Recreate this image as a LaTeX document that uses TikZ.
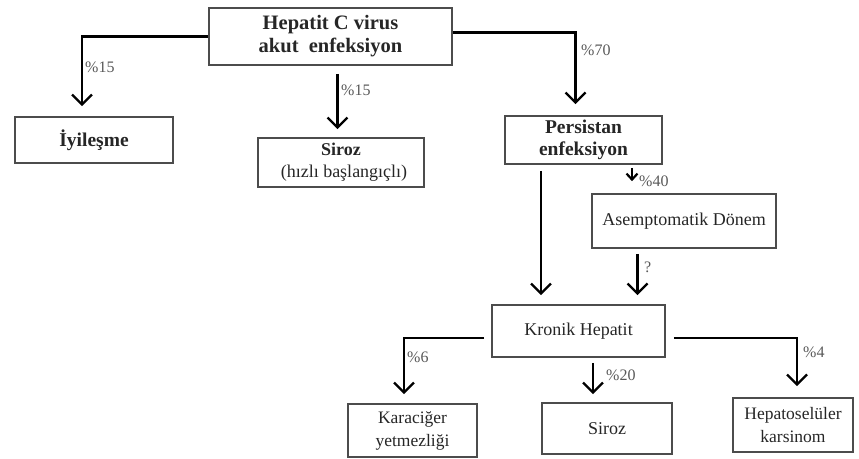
\documentclass[tikz,border=0pt]{standalone}
\usepackage{fontspec}
\setmainfont{Liberation Serif}
\usetikzlibrary{arrows.meta}

\begin{document}
\begin{tikzpicture}[x=1pt, y=-1pt,
		box/.style={draw=black!70, line width=1.6pt, inner sep=0pt, align=center, text=black!85, font=\fontsize{18}{20}\selectfont},
		bbox/.style={box, font=\bfseries\fontsize{19.5}{22}\selectfont},
		arr/.style={line width=2.4pt, -{Straight Barb[length=10pt, width=20pt]}},
		smallarr/.style={line width=2.2pt, -{Straight Barb[length=6pt, width=11pt]}},
		pct/.style={anchor=west, inner sep=0pt, text=black!65, font=\fontsize{16}{18}\selectfont}]
		\useasboundingbox (0,0) rectangle (859,458);
		% boxes
		\node[bbox, minimum width=243pt, minimum height=57pt, font=\bfseries\fontsize{20.5}{23}\selectfont] (virus) at (330.5,36.5) {Hepatit C virus\\akut~ enfeksiyon};
		\node[bbox, minimum width=158pt, minimum height=46pt] (iyi) at (94,140) {İyileşme};
		\node[box, minimum width=166pt, minimum height=49pt, font=\fontsize{18}{22}\selectfont] (siroza) at (341,162.5) {\textbf{Siroz}\\\hspace*{6pt}(hızlı başlangıçlı)};
		\node[bbox, minimum width=157pt, minimum height=48pt] (pers) at (583.5,140) {Persistan\\enfeksiyon};
		\node[box, minimum width=184pt, minimum height=54pt] (asem) at (684,221) {Asemptomatik Dönem};
		\node[box, minimum width=173pt, minimum height=52pt] (kronik) at (578.5,331) {Kronik Hepatit};
		\node[box, minimum width=129pt, minimum height=53pt, font=\fontsize{17.5}{23}\selectfont] (kc) at (412.5,430.5) {Karaciğer\\yetmezliği};
		\node[box, minimum width=130pt, minimum height=51pt] (sirozb) at (607,428.5) {Siroz};
		\node[box, minimum width=120pt, minimum height=54pt, font=\fontsize{17.5}{23}\selectfont] (hcc) at (793,425) {Hepatoselüler\\karsinom};
		% connectors
		\draw[arr] (virus.west) -| ([xshift=-12pt, yshift=10pt]iyi.north);
		\draw[arr] ([xshift=7pt, yshift=-8pt]virus.south) -- ([xshift=-3.5pt, yshift=8pt]siroza.north);
		\draw[arr] ([yshift=4pt]virus.east) -| ([xshift=-8pt, yshift=11pt]pers.north);
		\draw[arr] ([xshift=-42.5pt, yshift=-6pt]pers.south) -- ([xshift=-37.5pt, yshift=9pt]kronik.north);
		\draw[smallarr] ([xshift=48.5pt, yshift=-3pt]pers.south) -- ([xshift=-52pt, yshift=12pt]asem.north);
		\draw[arr] ([xshift=-46.5pt, yshift=-5pt]asem.south) -- ([xshift=59pt, yshift=9pt]kronik.north);
		\draw[arr] ([xshift=-7pt, yshift=-7pt]kronik.west) -| ([xshift=-8.5pt, yshift=9pt]kc.north);
		\draw[arr] ([xshift=14.5pt, yshift=-5pt]kronik.south) -- ([xshift=-14pt, yshift=8pt]sirozb.north);
		\draw[arr] ([xshift=8pt, yshift=-7pt]kronik.east) -| ([xshift=4pt, yshift=11pt]hcc.north);
		% rates
		\node[pct] (p1) at (85,67) {\%15};
		\node[pct] (p2) at (341,90) {\%15};
		\node[pct] (p3) at (581,50) {\%70};
		\node[pct] (p4) at (639,181) {\%40};
		\node[pct] (p5) at (644,267) {?};
		\node[pct] (p6) at (407,357) {\%6};
		\node[pct] (p7) at (606,375) {\%20};
		\node[pct] (p8) at (803,352) {\%4};
	\end{tikzpicture}
\end{document}
